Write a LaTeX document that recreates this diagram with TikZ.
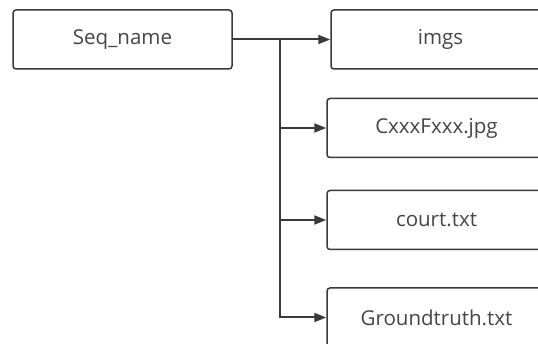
\documentclass[tikz,border=0pt]{standalone}
\usepackage{fontspec}
\setmainfont{Open Sans}
\usetikzlibrary{arrows.meta}
\definecolor{linec}{HTML}{3A3A3A}
\definecolor{textc}{HTML}{454545}
\tikzset{
  box/.style={draw=linec, line width=1.5pt, rounded corners=3pt, fill=white,
    minimum width=219pt, minimum height=59pt, inner sep=0pt,
    text=textc, font=\fontsize{20.5}{24}\selectfont},
  conn/.style={draw=linec, line width=2pt, -{Triangle[length=12pt,width=9pt]}}
}
\begin{document}
\begin{tikzpicture}[x=1pt,y=-1pt]
\path[use as bounding box, clip] (0,0) rectangle (538,344);
\fill[white] (0,0) rectangle (538,344);
\node[box] (seq) at (122.5,39.5) {Seq\_name};
\node[box] (imgs) at (440.5,39.5) {imgs};
\node[box] (cf) at (436.5,128) {CxxxFxxx.jpg};
\node[box] (ct) at (436.5,220) {court.txt};
\node[box] (gt) at (436.5,317.5) {Groundtruth.txt};
\coordinate (j) at (280,39.5);
\draw[conn] (seq.east) -- (imgs.west);
\draw[draw=linec, line width=2pt] (j) -- (280,317.5);
\draw[conn] (j) |- (cf.west);
\draw[conn] (j) |- (ct.west);
\draw[conn] (j) |- (gt.west);
\end{tikzpicture}
\end{document}
